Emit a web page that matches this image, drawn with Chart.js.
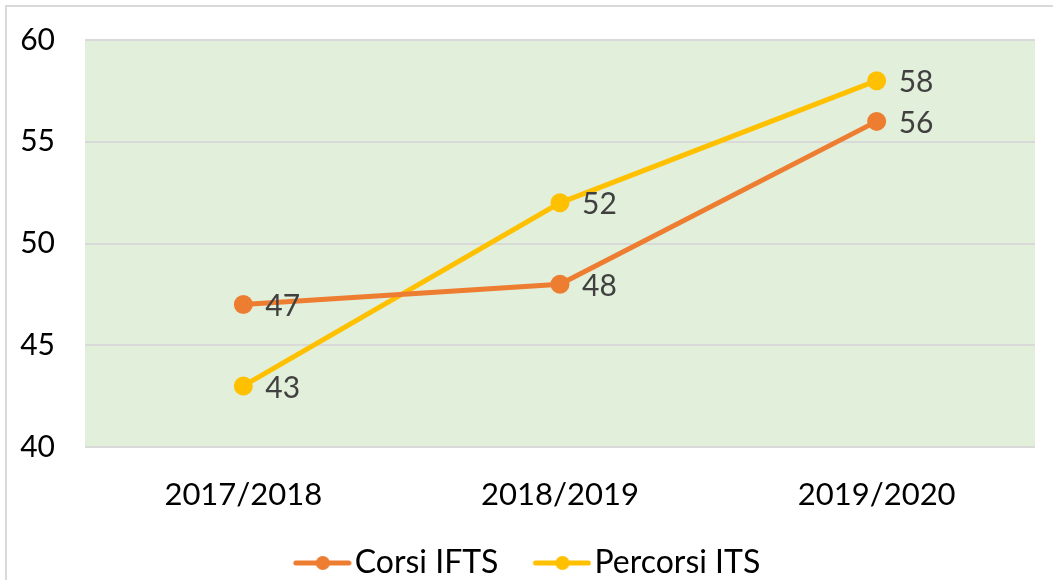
<!DOCTYPE html>
<html>
<head>
<meta charset="utf-8">
<script src="https://cdn.jsdelivr.net/npm/chart.js@4/dist/chart.umd.min.js"></script>
<style>
  html, body { margin: 0; padding: 0; background: #fff; overflow: hidden; }
  #wrap { width: 1053px; height: 589px; }
</style>
</head>
<body>
<div id="wrap"><canvas id="chartCanvas" width="1053" height="589"></canvas></div>
<script>
const years = ["2017/2018", "2018/2019", "2019/2020"];
const corsiIfts = [47, 48, 56];
const percorsiIts = [43, 52, 58];
const yTicks = [40, 45, 50, 55, 60];

const fontName = "Lato, 'Open Sans', sans-serif";

// line-with-dot picture for the legend, drawn on the right part of a wider canvas
function legendMarker(color) {
    const c = document.createElement("canvas");
    c.width = 90;
    c.height = 16;
    const g = c.getContext("2d");
    g.strokeStyle = color;
    g.lineWidth = 5;
    g.lineCap = "round";
    g.beginPath();
    g.moveTo(34, 8);
    g.lineTo(87, 8);
    g.stroke();
    g.fillStyle = color;
    g.beginPath();
    g.arc(61, 8, 7, 0, Math.PI * 2);
    g.fill();
    return c;
}

const frame = {
    id: "frame",
    beforeDraw(chart) {
        const ctx = chart.ctx;
        const a = chart.chartArea;
        ctx.save();
        ctx.fillStyle = "#ffffff";
        ctx.fillRect(0, 0, chart.width, chart.height);
        ctx.strokeStyle = "#D9D9D9";
        ctx.lineWidth = 2;
        ctx.strokeRect(6, 6, chart.width + 20, chart.height + 20);
        ctx.fillStyle = "#E2EFDA"; // plot area fill
        ctx.fillRect(a.left, a.top, a.right - a.left, a.bottom - a.top);
        ctx.restore();
    }
};

const valueLabels = {
    id: "valueLabels",
    afterDatasetsDraw(chart) {
        const ctx = chart.ctx;
        ctx.save();
        ctx.font = "30px " + fontName;
        ctx.fillStyle = "#404040";
        ctx.textAlign = "left";
        ctx.textBaseline = "middle";
        chart.data.datasets.forEach(function (ds, i) {
            chart.getDatasetMeta(i).data.forEach(function (pt, j) {
                ctx.fillText(String(ds.data[j]), pt.x + 22, pt.y + 2);
            });
        });
        ctx.restore();
    }
};

const ctx = document.getElementById("chartCanvas").getContext("2d");

new Chart(ctx, {
    type: "line",
    data: {
        labels: years,
        datasets: [{
            label: "Corsi IFTS",
            data: corsiIfts,
            borderColor: "#ED7D31",
            backgroundColor: "#ED7D31",
            borderWidth: 5,
            pointRadius: 7,
            pointHoverRadius: 7,
            tension: 0
        }, {
            label: "Percorsi ITS",
            data: percorsiIts,
            borderColor: "#FFC000",
            backgroundColor: "#FFC000",
            borderWidth: 5,
            pointRadius: 7,
            pointHoverRadius: 7,
            tension: 0
        }]
    },
    options: {
        responsive: false,
        animation: false,
        layout: { padding: { left: 0, right: 18, top: 40, bottom: 0 } },
        plugins: {
            tooltip: { enabled: false },
            legend: {
                position: "bottom",
                labels: {
                    color: "#000000",
                    font: { family: fontName, size: 32 },
                    padding: 16,
                    usePointStyle: true,
                    pointStyleWidth: 64,
                    generateLabels: function (chart) {
                        const items = Chart.defaults.plugins.legend.labels.generateLabels(chart);
                        items.forEach(function (it) {
                            it.pointStyle = legendMarker(chart.data.datasets[it.datasetIndex].borderColor);
                        });
                        return items;
                    }
                }
            }
        },
        scales: {
            x: {
                offset: true,
                grid: { display: false, drawTicks: false },
                border: { display: false },
                ticks: {
                    color: "#000000",
                    padding: 29,
                    font: { family: fontName, size: 31 }
                },
                afterFit: function (scale) {
                    scale.height = 84;
                    scale.paddingLeft = 0;
                    scale.paddingRight = 0;
                }
            },
            y: {
                min: 40,
                max: 60,
                afterBuildTicks: function (scale) {
                    scale.ticks = yTicks.map(function (v) { return { value: v }; });
                },
                grid: { color: "#D9D9D9", lineWidth: 2, drawTicks: false },
                border: { display: false },
                ticks: {
                    color: "#000000",
                    padding: 30,
                    font: { family: fontName, size: 30 }
                },
                afterFit: function (scale) {
                    scale.width = 85;
                    scale.paddingTop = 0;
                    scale.paddingBottom = 0;
                }
            }
        }
    },
    plugins: [frame, valueLabels]
});
</script>
</body>
</html>
